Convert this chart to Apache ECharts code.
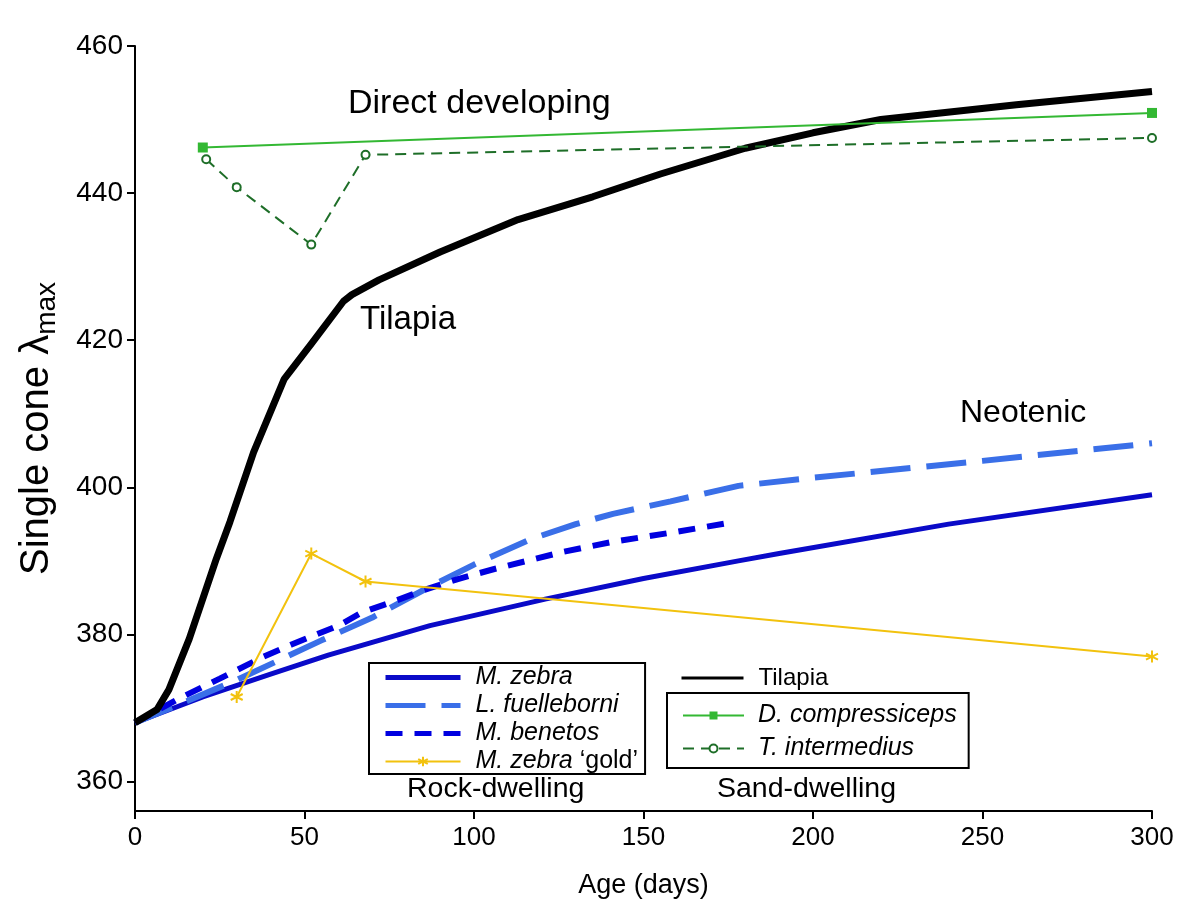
<!DOCTYPE html>
<html>
<head>
<meta charset="utf-8">
<script src="https://cdn.jsdelivr.net/npm/echarts@6/dist/echarts.min.js"></script>
<style>
html,body{margin:0;padding:0;background:#fff;}
#chart{width:1200px;height:908px;}
</style>
</head>
<body>
<div id="chart"></div>
<script>
// ---- data (days, lambda max nm) ----
var xTicks = [0, 50, 100, 150, 200, 250, 300];
var yTicks = [360, 380, 400, 420, 440, 460];

var mZebra = [[0,368],[20,371.5],[40,374.6],[57,377.2],[72,379.2],[87,381.2],[121,384.8],[150,387.6],[178,390],[190,391],[240,395],[300,399]];
var lFuelleborni = [[0,368],[12,370.3],[30,373.8],[55,379.2],[70,382.3],[87,386.5],[100,389.5],[117,393],[130,395],[141,396.4],[158,398.1],[178,400.2],[200,401.3],[250,403.6],[300,406]];
var mBenetos = [[0,368],[13,371.3],[25,374],[38,377],[46,378.6],[54,380.1],[60,381.2],[67,383],[77,384.6],[85,386],[95,387.5],[106,388.9],[126,391.2],[141,392.6],[159,393.9],[177,395.3]];
var mZebraGold = [[30,371.5],[52,391],[68,387.2],[300,377]];
var tilapia = [[0,368],[6.5,369.8],[10,372.5],[16,379.4],[24,390.3],[28,395.3],[35,404.8],[44,414.7],[52,419.5],[61.5,425.3],[64,426.2],[72,428.2],[90,432],[113,436.4],[135,439.5],[155,442.6],[180,446.1],[200,448.2],[220,450],[260,452],[300,453.8]];
var dCompressiceps = [[20,446.2],[300,450.9]];
var tIntermedius = [[21,444.6],[30,440.8],[52,433],[68,445.2],[300,447.5]];

var FONT = '"Liberation Sans", Arial, Helvetica, sans-serif';
var asterisk = 'path://M0,-10L0,10M-8.66,-5L8.66,5M-8.66,5L8.66,-5';

var chart = echarts.init(document.getElementById('chart'), null, {renderer: 'canvas'});

var italicRich = {
  i: {fontStyle: 'italic', fontSize: 25, fontFamily: FONT, color: '#000'},
  n: {fontSize: 25, fontFamily: FONT, color: '#000'}
};

var option = {
  animation: false,
  backgroundColor: '#fff',
  grid: {left: 135, right: 48, top: 46, bottom: 97, containLabel: false},
  xAxis: {
    type: 'value', min: 0, max: 300, interval: 50,
    axisLine: {show: true, lineStyle: {color: '#000', width: 2}},
    axisTick: {show: true, length: 8, lineStyle: {color: '#000', width: 2}},
    axisLabel: {color: '#000', fontSize: 26, fontFamily: FONT, margin: 14,
      customValues: xTicks},
    splitLine: {show: false},
    name: 'Age (days)', nameLocation: 'middle', nameGap: 61, nameMoveOverlap: false,
    nameTextStyle: {color: '#000', fontSize: 27, fontFamily: FONT}
  },
  yAxis: {
    type: 'value', min: 356, max: 460,
    axisLine: {show: true, onZero: false, lineStyle: {color: '#000', width: 2}},
    axisTick: {show: true, length: 8, lineStyle: {color: '#000', width: 2}, customValues: yTicks},
    axisLabel: {color: '#000', fontSize: 28, fontFamily: FONT, margin: 12, customValues: yTicks},
    splitLine: {show: false},
    name: '{a|Single cone λ}{s|max}', nameLocation: 'middle', nameRotate: 90, nameGap: 74, nameMoveOverlap: false,
    nameTextStyle: {
      color: '#000', fontSize: 40, fontFamily: FONT,
      rich: {
        a: {fontSize: 40, fontFamily: FONT, color: '#000', lineHeight: 48},
        s: {fontSize: 28, fontFamily: FONT, color: '#000', lineHeight: 48, verticalAlign: 'bottom', padding: [13, 0, 0, 0]}
      }
    }
  },
  legend: [
    {
      orient: 'vertical', left: 369, top: 663,
      padding: [2, 7, 0, 14],
      borderColor: '#000', borderWidth: 2,
      itemWidth: 75, itemHeight: 12, itemGap: 3,
      textStyle: {fontSize: 25, fontFamily: FONT, color: '#000', lineHeight: 24, padding: [0, 0, 0, 10], rich: italicRich},
      formatter: function (name) {
        if (name === 'M. zebra ‘gold’') return '{i|M. zebra} {n|‘gold’}';
        return '{i|' + name + '}';
      },
      data: [
        {name: 'M. zebra', itemStyle: {opacity: 0}, lineStyle: {width: 5}},
        {name: 'L. fuelleborni', itemStyle: {opacity: 0}, lineStyle: {width: 5}},
        {name: 'M. benetos', itemStyle: {opacity: 0}, lineStyle: {width: 5}},
        {name: 'M. zebra ‘gold’', lineStyle: {width: 2}}
      ]
    },
    {
      orient: 'vertical', left: 680, top: 666, padding: 0,
      itemWidth: 62, itemHeight: 10,
      textStyle: {fontSize: 24, fontFamily: FONT, color: '#000', lineHeight: 24, padding: [0, 0, 0, 10]},
      data: [{name: 'Tilapia', itemStyle: {opacity: 0}, lineStyle: {width: 3}}]
    },
    {
      orient: 'vertical', left: 667, top: 693,
      padding: [10, 12, 7, 15],
      borderColor: '#000', borderWidth: 2,
      itemWidth: 61, itemHeight: 10, itemGap: 8,
      textStyle: {fontSize: 25, fontFamily: FONT, color: '#000', lineHeight: 24, padding: [0, 0, 0, 9], rich: italicRich},
      formatter: function (name) { return '{i|' + name + '}'; },
      data: [
        {name: 'D. compressiceps', lineStyle: {width: 2}},
        {name: 'T. intermedius', lineStyle: {width: 2}}
      ]
    }
  ],
  graphic: [
    {type: 'text', x: 348, y: 104, style: {text: 'Direct developing', fontSize: 34, fontFamily: FONT, fill: '#000', verticalAlign: 'middle'}},
    {type: 'text', x: 360, y: 320, style: {text: 'Tilapia', fontSize: 33, fontFamily: FONT, fill: '#000', verticalAlign: 'middle'}},
    {type: 'text', x: 960, y: 413, style: {text: 'Neotenic', fontSize: 32, fontFamily: FONT, fill: '#000', verticalAlign: 'middle'}},
    {type: 'text', x: 407, y: 789, style: {text: 'Rock-dwelling', fontSize: 28.5, fontFamily: FONT, fill: '#000', verticalAlign: 'middle'}},
    {type: 'text', x: 717, y: 789, style: {text: 'Sand-dwelling', fontSize: 28.5, fontFamily: FONT, fill: '#000', verticalAlign: 'middle'}}
  ],
  series: [
    {name: 'M. zebra', type: 'line', data: mZebra, symbol: 'none', z: 2,
      lineStyle: {color: '#0a0ac8', width: 5}, itemStyle: {color: '#0a0ac8'}},
    {name: 'L. fuelleborni', type: 'line', data: lFuelleborni, symbol: 'none', z: 3,
      lineStyle: {color: '#3a6fe8', width: 6, type: [40, 16]}, itemStyle: {color: '#3a6fe8'}},
    {name: 'M. benetos', type: 'line', data: mBenetos, symbol: 'none', z: 4,
      lineStyle: {color: '#0000e0', width: 6, type: [17, 12]}, itemStyle: {color: '#0000e0'}},
    {name: 'Tilapia', type: 'line', data: tilapia, symbol: 'none', z: 5,
      lineStyle: {color: '#000', width: 7, join: 'round'}, itemStyle: {color: '#000'}},
    {name: 'M. zebra ‘gold’', type: 'line', data: mZebraGold, symbol: asterisk, symbolSize: 12, z: 6,
      lineStyle: {color: '#f2c20e', width: 2}, itemStyle: {color: '#f2c20e', borderColor: '#f2c20e', borderWidth: 2}},
    {name: 'D. compressiceps', type: 'line', data: dCompressiceps, symbol: 'rect', symbolSize: 10, z: 7,
      lineStyle: {color: '#33b833', width: 2}, itemStyle: {color: '#33b833'}},
    {name: 'T. intermedius', type: 'line', data: tIntermedius, symbol: 'emptyCircle', symbolSize: 8, z: 8,
      lineStyle: {color: '#1e6e28', width: 2, type: [11, 7]}, itemStyle: {color: '#1e6e28', borderWidth: 1.5}}
  ]
};
chart.setOption(option);
</script>
</body>
</html>
